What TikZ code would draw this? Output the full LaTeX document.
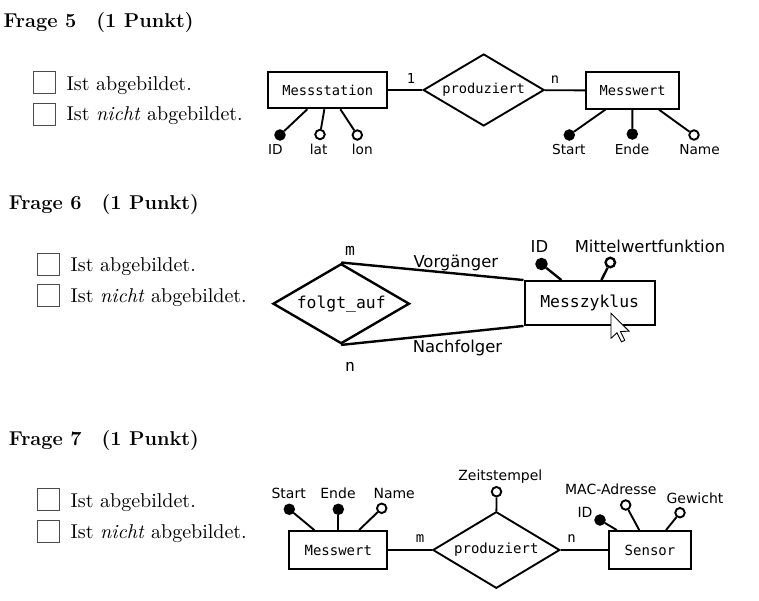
\documentclass[tikz,border=0pt]{standalone}
\usepackage{fontspec}
\usepackage{tikz}
\usetikzlibrary{shapes.geometric}
\newfontfamily\ersans{DejaVu Sans}
\newfontfamily\ermono{DejaVu Sans Mono}

\begin{document}
\begin{tikzpicture}[x=1pt,y=-1pt,
		ent/.style={draw,rectangle,inner sep=0pt,font=\ermono\fontsize{#1pt}{#1pt}\selectfont},
		rel/.style={draw,diamond,aspect=1.7,inner sep=0pt,font=\ermono\fontsize{#1pt}{#1pt}\selectfont},
		card/.style={anchor=base,inner sep=0pt,font=\ermono\fontsize{#1pt}{#1pt}\selectfont},
		lab/.style={anchor=base,inner sep=0pt,font=\ersans\fontsize{#1pt}{#1pt}\selectfont},
		key/.style={circle,draw,fill=black,minimum size=#1pt,inner sep=0pt},
		att/.style={circle,draw,fill=white,minimum size=#1pt,inner sep=0pt},
		tickbox/.style={draw=black!70,line width=0.9pt,minimum size=22pt,inner sep=0pt},
		head/.style={anchor=base west,inner sep=0pt,font=\fontsize{20pt}{24pt}\selectfont\bfseries},
		txt/.style={anchor=base west,inner sep=0pt,scale=2,font=\fontsize{10pt}{12pt}\selectfont}]
	\useasboundingbox (0,0) rectangle (759,601);

	\node[head] (h5) at (3.5,27.5) {Frage 5\quad(1 Punkt)};
	\node[tickbox] (c5a) at (44,82) {};
	\node[tickbox] (c5b) at (44,114.5) {};
	\node[txt] (t5a) at (66.3,90.7) {Ist abgebildet.};
	\node[txt] (t5b) at (66.3,120.7) {Ist \textit{nicht} abgebildet.};

	\begin{scope}[line width=1.9pt]
		\node[ent=13.7,minimum width=118.7pt,minimum height=36.6pt] (ms) at (327.7,90) {Messstation};
		\node[rel=13.7,minimum width=121pt,minimum height=72pt] (pr1) at (483.7,90) {produziert};
		\node[ent=13.7,minimum width=93pt,minimum height=36.3pt] (mw1) at (632.5,90.5) {Messwert};
		\draw (ms) -- (pr1);
		\draw (pr1) -- (mw1);
		\node[card=13.7] (c1) at (411,83.5) {1};
		\node[card=13.7] (c2) at (555,83.5) {n};
		\node[key=9.5] (msid) at (280,135) {};
		\node[att=9.5] (mslat) at (320,134.5) {};
		\node[att=9.5] (mslon) at (357.3,135) {};
		\node[key=9.5] (mwst) at (569.3,135) {};
		\node[key=9.5] (mwen) at (632.3,134) {};
		\node[att=9.5] (mwna) at (694,135) {};
		\draw (msid) -- (ms);
		\draw (mslat) -- (ms);
		\draw (mslon) -- (ms);
		\draw (mwst) -- (mw1);
		\draw (mwen) -- (mw1);
		\draw (mwna) -- (mw1);
		\node[lab=13.7] at (275.3,155) {ID};
		\node[lab=13.7] at (318.7,155) {lat};
		\node[lab=13.7] at (362.3,155) {lon};
		\node[lab=13.7] at (568.8,155) {Start};
		\node[lab=13.7] at (632,155) {Ende};
		\node[lab=13.7] at (699.5,155) {Name};
	\end{scope}

	\node[head] (h6) at (8.8,209.3) {Frage 6\quad(1 Punkt)};
	\node[tickbox] (c6a) at (48.3,264) {};
	\node[tickbox] (c6b) at (48.3,295.7) {};
	\node[txt] (t6a) at (70.3,271.7) {Ist abgebildet.};
	\node[txt] (t6b) at (70.3,302.7) {Ist \textit{nicht} abgebildet.};

	\begin{scope}[line width=2.4pt]
		\node[rel=16.4,minimum width=136.5pt,minimum height=80pt] (fa) at (341.2,303.7) {folgt\_auf};
		\node[ent=16.4,minimum width=130pt,minimum height=43.5pt] (mz) at (589.7,303) {Messzyklus};
		\draw (fa.north) -- (mz.north west);
		\draw (fa.south) -- (mz.south west);
		\node[card=16.4] (c3) at (350,255) {m};
		\node[card=16.4] (c4) at (350,371.7) {n};
		\node[lab=16.4] at (455.8,267.5) {Vorgänger};
		\node[lab=16.4] at (457.5,352.7) {Nachfolger};
		\node[key=10] (mzid) at (541.5,264) {};
		\node[att=9.5] (mzmw) at (610.3,262.5) {};
		\draw (mzid) -- (mz);
		\draw (mzmw) -- (mz);
		\node[lab=16.4] at (539.4,252.5) {ID};
		\node[lab=16.4] at (650,252.3) {Mittelwertfunktion};
	\end{scope}
	\draw[line width=0.9pt,fill=white,line join=miter,shift={(611,313.3)}]
		(0,0) -- (0,25) -- (6,19.5) -- (10.5,28.5) -- (13.8,27) -- (9.5,18.3) -- (18,17.8) -- cycle;

	\node[head] (h7) at (8.8,445) {Frage 7\quad(1 Punkt)};
	\node[tickbox] (c7a) at (48.3,499.5) {};
	\node[tickbox] (c7b) at (48.3,531.3) {};
	\node[txt] (t7a) at (70.3,507.3) {Ist abgebildet.};
	\node[txt] (t7b) at (70.3,538.3) {Ist \textit{nicht} abgebildet.};

	\begin{scope}[line width=1.9pt]
		\node[ent=14,minimum width=98pt,minimum height=38pt] (mw2) at (338.3,550) {Messwert};
		\node[rel=14,minimum width=127pt,minimum height=76.6pt] (pr2) at (496.3,550) {produziert};
		\node[ent=14,minimum width=81.4pt,minimum height=38pt] (se) at (650,550) {Sensor};
		\draw (mw2) -- (pr2);
		\draw (pr2) -- (se);
		\node[card=14] (c5) at (420,542.3) {m};
		\node[card=14] (c6) at (571.7,542.3) {n};
		\node[att=9.5] (zs) at (496.5,491.7) {};
		\draw (zs) -- (pr2);
		\node[key=9.5] (st2) at (289.3,509.3) {};
		\node[key=9.5] (en2) at (338.3,509.3) {};
		\node[att=9.5] (na2) at (381.7,508.3) {};
		\draw (st2) -- (mw2);
		\draw (en2) -- (mw2);
		\draw (na2) -- (mw2);
		\node[key=9.5] (seid) at (600,520) {};
		\node[att=9.5] (semac) at (625.7,505) {};
		\node[att=9.5] (segw) at (680,512.7) {};
		\draw (seid) -- (se);
		\draw (semac) -- (se);
		\draw (segw) -- (se);
		\node[lab=14] at (500.3,480.7) {Zeitstempel};
		\node[lab=14] at (288.7,498.3) {Start};
		\node[lab=14] at (338,498.3) {Ende};
		\node[lab=14] at (394.2,498.3) {Name};
		\node[lab=14] at (585,517.3) {ID};
		\node[lab=14] at (610.8,494) {MAC-Adresse};
		\node[lab=14] at (695,503.3) {Gewicht};
	\end{scope}
\end{tikzpicture}
\end{document}
